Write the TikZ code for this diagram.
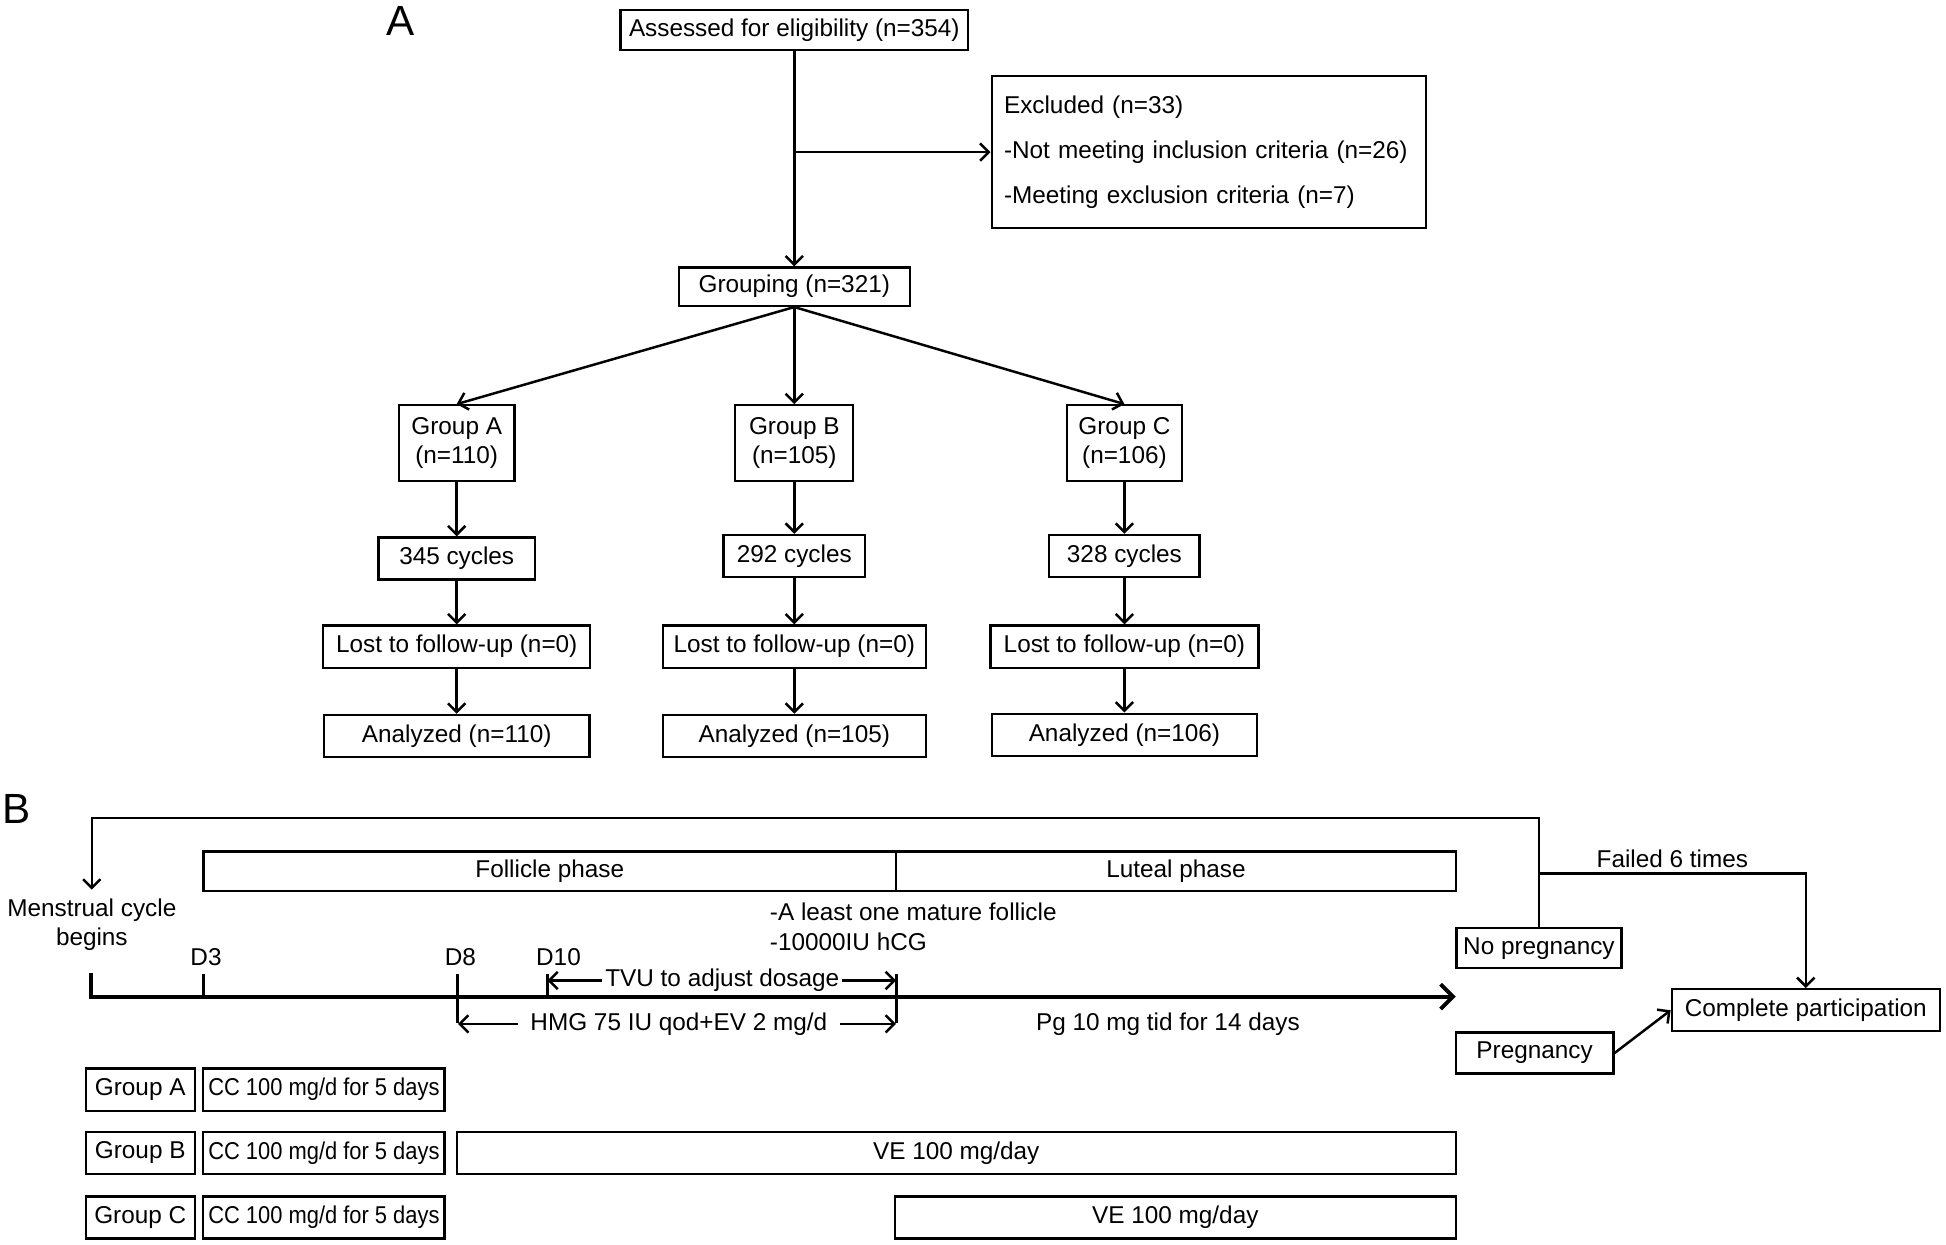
\documentclass[tikz,border=0pt]{standalone}
\usepackage{fontspec}
\setmainfont{Liberation Sans}
\newfontfamily\narrowfont{Liberation Sans}[FakeStretch=0.9]
\usetikzlibrary{arrows.meta}

\begin{document}
\begin{tikzpicture}[x=0.5pt,y=-0.5pt,
  every node/.style={font=\fontsize{9.8}{11.8}\selectfont},
  fbox/.style={draw,line width=0.9pt,inner sep=2pt,minimum height=17pt,align=center},
  arr/.style={line width=1pt,-{Straight Barb[length=3.5pt,width=7pt]}},
  tick/.style={line width=1.2pt},
  panel/.style={font=\fontsize{17}{20}\selectfont}]
  \useasboundingbox (0,0) rectangle (1568,1003);
  \path (323,17) node[panel] (labA) {A} (13,652) node[panel] (labB) {B};

  \path (640,24) node[fbox,minimum width=140pt,minimum height=16pt] (assess) {Assessed for eligibility (n=354)}
  (974,122.5) node[fbox,minimum width=175pt,minimum height=61.5pt,align=left,text width=165pt,
    font=\fontsize{9.8}{18}\selectfont] (excl) {Excluded (n=33)\\-Not meeting inclusion criteria (n=26)\\-Meeting exclusion criteria (n=7)}
  (640,231) node[fbox,minimum width=93pt,minimum height=15.5pt] (group) {Grouping (n=321)};

  \path (368,357) node[fbox,minimum width=46.5pt,minimum height=30.5pt] (grpA) {Group A\\(n=110)}
  (640,357) node[fbox,minimum width=47.5pt,minimum height=30.5pt] (grpB) {Group B\\(n=105)}
  (906,357) node[fbox,minimum width=46.5pt,minimum height=30.5pt] (grpC) {Group C\\(n=106)};
  \path (368,450) node[fbox,minimum width=63pt] (cycA) {345 cycles}
  (640,448) node[fbox,minimum width=57pt] (cycB) {292 cycles}
  (906,448) node[fbox,minimum width=60.5pt] (cycC) {328 cycles};
  \path (368,521) node[fbox,minimum width=107.5pt] (lostA) {Lost to follow-up (n=0)}
  (640,521) node[fbox,minimum width=106pt] (lostB) {Lost to follow-up (n=0)}
  (906,521) node[fbox,minimum width=108pt] (lostC) {Lost to follow-up (n=0)};
  \path (368,593) node[fbox,minimum width=107pt] (anaA) {Analyzed (n=110)}
  (640,593) node[fbox,minimum width=106pt] (anaB) {Analyzed (n=105)}
  (906,592) node[fbox,minimum width=107pt] (anaC) {Analyzed (n=106)};

  \draw[arr] (assess) -- (group);
  \draw[arr] (excl.west -| assess.south) -- (excl.west);
  \foreach \g in {A,B,C} {
    \draw[arr] (group.south) -- (grp\g.north);
    \draw[arr] (grp\g) -- (cyc\g);
    \draw[arr] (cyc\g) -- (lost\g);
    \draw[arr] (lost\g) -- (ana\g);
  }

  \path (443,702) node[fbox,minimum width=279pt,minimum height=16pt] (foll) {Follicle phase}
  (947.5,702) node[fbox,minimum width=225.5pt,minimum height=16pt] (lut) {Luteal phase}
  (74,745) node[align=center,font=\fontsize{9.8}{12}\selectfont] (mens) {Menstrual cycle\\begins};

  \coordinate (t0) at (73,803);
  \coordinate (t3) at (164,803);
  \coordinate (t8) at (369,803);
  \coordinate (t10) at (441,803);
  \coordinate (tlut) at (722,803);
  \coordinate (tend) at (1173,803);
  \draw[line width=1.6pt,-{Straight Barb[length=5pt,width=10pt]}] (73,784) -- (t0) -- (tend);
  \draw[tick] (t3) -- ++(0,-18);
  \draw[tick] (t10) -- ++(0,-18);
  \draw[tick] (t8) ++(0,-18) -- ++(0,39);
  \draw[tick] (tlut) ++(0,-18) -- ++(0,39);
  \path (166,771) node (d3) {D3} (371,771) node (d8) {D8} (450,771) node (d10) {D10};

  \path (620,747) node[anchor=west,align=left,inner sep=0pt,font=\fontsize{9.8}{12}\selectfont] (crit)
    {-A least one mature follicle\\-10000IU hCG};
  \path (582,790) node[inner sep=1pt] (tvu) {TVU to adjust dosage};
  \draw[arr] (tvu.west) -- (tvu.west -| t10);
  \draw[arr] (tvu.east) -- (tvu.east -| tlut);
  \path (547,825) node[inner xsep=5pt] (hmg) {HMG 75 IU qod+EV 2 mg/d};
  \draw[arr] (hmg.west) -- (hmg.west -| t8);
  \draw[arr] (hmg.east) -- (hmg.east -| tlut);
  \path (941,825) node (pg) {Pg 10 mg tid for 14 days};

  \path (1240,764) node[fbox,minimum width=66.5pt,minimum height=16pt] (nopreg) {No pregnancy}
  (1236.5,848.5) node[fbox,minimum width=63.5pt,minimum height=16.5pt] (preg) {Pregnancy}
  (1455,814) node[fbox,minimum width=108pt] (compl) {Complete participation};
  \coordinate (fork) at (1240,704);
  \draw[arr] (nopreg.north) -- ++(0,-88) -| (mens.north);
  \draw[arr] (fork) -| node[pos=0.25,above,inner sep=2pt] (failed) {Failed 6 times} (compl.north);
  \draw[arr] (preg.east) -- (compl.west);

  \foreach \g/\y in {A/878,B/929,C/981} {
    \path (113,\y) node[fbox,minimum width=44pt] (row\g) {Group \g}
    (261,\y) node[fbox,minimum width=97pt,font={\narrowfont\fontsize{9.8}{11.8}\selectfont}] (cc\g) {CC 100 mg/d for 5 days};
  }
  \path (770.5,929) node[fbox,minimum width=402.5pt] (veB) {VE 100 mg/day}
  (947,981) node[fbox,minimum width=226pt] (veC) {VE 100 mg/day};
\end{tikzpicture}
\end{document}
